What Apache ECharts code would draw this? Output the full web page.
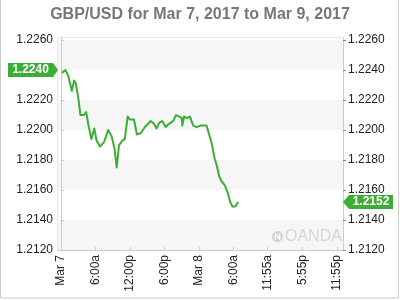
<!DOCTYPE html>
<html>
<head>
<meta charset="utf-8">
<script src="https://cdn.jsdelivr.net/npm/echarts@6/dist/echarts.min.js"></script>
<style>html,body{margin:0;padding:0;background:#fff}#c{width:400px;height:300px}</style>
</head>
<body>
<div id="c"></div>
<script>
// ---- data ----
const titleText = 'GBP/USD for Mar 7, 2017 to Mar 9, 2017';
// hours since Mar 7 00:00
const hours = [0.2,0.8,1.3,1.9,2.3,2.6,3.0,3.4,4.0,4.4,
  4.8,5.3,5.8,6.2,6.8,7.5,8.2,8.8,9.3,9.7,
  10.1,10.7,11.1,11.6,12.0,12.7,13.2,13.9,14.6,15.6,
  16.2,16.6,17.1,17.6,18.2,18.7,19.0,19.5,20.0,20.6,
  21.0,21.1,21.4,21.9,22.4,23.0,23.6,24.2,24.7,25.3,
  25.6,26.2,26.7,27.1,27.5,27.9,28.5,29.0,29.4,29.8,
  30.3,30.8];
const rates = [1.2238,1.2240,1.2236,1.2226,1.2233,1.2231,1.2222,1.2210,1.2210,1.2212,
  1.2203,1.2194,1.2201,1.2193,1.2189,1.2192,1.2200,1.2196,1.2188,1.2175,
  1.2190,1.2193,1.2194,1.2209,1.2207,1.2207,1.2197,1.2198,1.2202,1.2206,
  1.2204,1.2201,1.2205,1.2206,1.2202,1.2204,1.2204,1.2206,1.2210,1.2209,
  1.2208,1.2203,1.2209,1.2208,1.2209,1.2203,1.2202,1.2203,1.2203,1.2203,
  1.2202,1.2191,1.2181,1.2176,1.2169,1.2166,1.2163,1.2158,1.2152,1.2149,
  1.2149,1.2152];
const tickHours = [0, 6, 12, 18, 24, 30, 35.92, 41.92, 47.92];
const tickLabels = ['Mar 7','6:00a','12:00p','6:00p','Mar 8','6:00a','11:55a','5:55p','11:55p'];
const openValue = 1.2240;
const lastValue = 1.2152;
const yMin = 1.2120, yMax = 1.22614, yStep = 0.002;
const xMin = -0.5, xMax = 49;

const green = '#3cad36';
const font = 'Liberation Sans, Arial, sans-serif';

const chart = echarts.init(document.getElementById('c'), null, {renderer: 'canvas'});

function yAxisCfg(pos) {
  return {
    type: 'value', position: pos, min: yMin, max: yMax, interval: yStep,
    axisLine: {show: true, lineStyle: {color: '#ccc'}},
    axisTick: {show: true, inside: pos === 'left', length: 3, lineStyle: {color: pos === 'left' ? '#ccc' : '#888'}},
    axisLabel: {
      showMaxLabel: false, color: '#222', fontSize: 12, fontFamily: font, margin: 5,
      formatter: v => v.toFixed(4)
    },
    splitLine: {show: false},
    splitArea: pos === 'left' ? {show: true, areaStyle: {color: ['#f6f6f6', '#ffffff']}} : {show: false}
  };
}

const option = {
  animation: false,
  backgroundColor: '#fff',
  title: {
    text: titleText, left: 'center', top: 2,
    textStyle: {fontSize: 16, fontWeight: 'bold', color: '#777', fontFamily: font}
  },
  grid: {left: 58, right: 57, top: 38, bottom: 50, show: true, borderColor: '#ccc', borderWidth: 1, backgroundColor: 'transparent'},
  xAxis: {
    type: 'value', min: xMin, max: xMax,
    axisLine: {show: true, lineStyle: {color: '#ccc'}},
    axisTick: {show: true, inside: true, length: 3, customValues: tickHours, lineStyle: {color: '#ccc'}},
    axisLabel: {
      customValues: tickHours, rotate: 90, color: '#222', fontSize: 12, fontFamily: font, margin: 5,
      formatter: v => { const i = tickHours.findIndex(t => Math.abs(t - v) < 1e-6); return i >= 0 ? tickLabels[i] : ''; }
    },
    splitLine: {show: false}
  },
  yAxis: [yAxisCfg('left'), yAxisCfg('right')],
  series: [{
    type: 'line', data: hours.map((h, i) => [h, rates[i]]),
    showSymbol: false, symbol: 'none',
    lineStyle: {color: green, width: 2, join: 'round'},
    z: 5
  }]
};
chart.setOption(option);

const yL = chart.convertToPixel({yAxisIndex: 0}, openValue);
const yR = chart.convertToPixel({yAxisIndex: 1}, lastValue);
const gl = 58, gr = 343;
chart.setOption({
  graphic: [
    {type: 'rect', shape: {x: 0.5, y: -2, width: 398, height: 300}, style: {fill: 'none', stroke: '#ccc', lineWidth: 1}, silent: true, z: 0},
    {type: 'polygon', shape: {points: [[8, yL - 7], [gl - 5, yL - 7], [gl, yL], [gl - 5, yL + 7], [8, yL + 7]]}, style: {fill: green}, z: 10},
    {type: 'text', x: (8 + gl - 5) / 2, y: yL, style: {text: openValue.toFixed(4), fill: '#fff', font: 'bold 12px ' + font, align: 'center', verticalAlign: 'middle'}, z: 11},
    {type: 'polygon', shape: {points: [[gr, yR], [gr + 6, yR - 7], [393, yR - 7], [393, yR + 7], [gr + 6, yR + 7]]}, style: {fill: green}, z: 10},
    {type: 'text', x: (gr + 6 + 393) / 2, y: yR, style: {text: lastValue.toFixed(4), fill: '#fff', font: 'bold 12px ' + font, align: 'center', verticalAlign: 'middle'}, z: 11},
    {type: 'circle', shape: {cx: 277.5, cy: 236.5, r: 5.5}, style: {fill: '#d0d0d0'}, z: 3},
    {type: 'polyline', shape: {points: [[275.3, 239.8], [275.3, 233.8], [279.7, 239.2], [279.7, 233.2]]}, style: {stroke: '#fff', lineWidth: 1.3, fill: 'none'}, z: 4},
    {type: 'text', x: 285, y: 237, style: {text: 'OANDA', fill: '#d6d6d6', font: '16px ' + font, verticalAlign: 'middle'}, z: 3}
  ]
});
</script>
</body>
</html>
